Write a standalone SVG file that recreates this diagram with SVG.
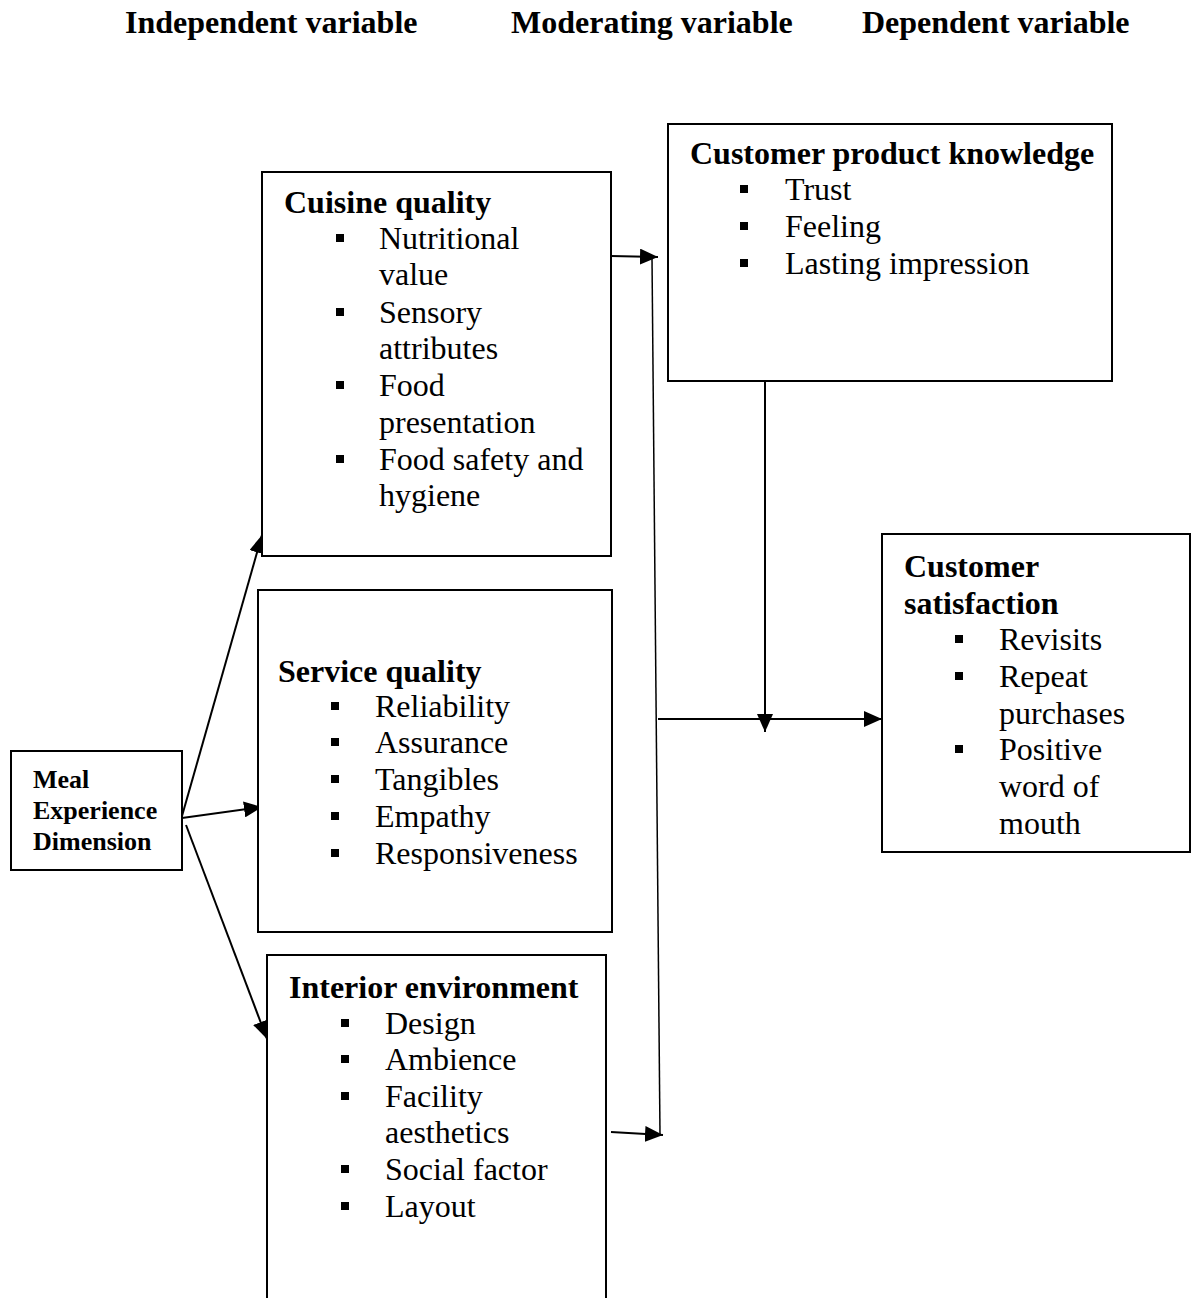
<svg xmlns="http://www.w3.org/2000/svg" width="1192" height="1298" viewBox="0 0 1192 1298">
<style>
.box{fill:#fff;stroke:#000;stroke-width:2}
.h{font-family:"Liberation Serif","Times New Roman",serif;font-weight:bold;font-size:32px;fill:#000}
.t{font-family:"Liberation Serif","Times New Roman",serif;font-size:32px;fill:#000}
.m{font-family:"Liberation Serif","Times New Roman",serif;font-weight:bold;font-size:26px;fill:#000}
.c{stroke:#000;stroke-width:2;fill:none}
.thin{stroke:#000;stroke-width:1.5;fill:none}
.b{fill:#000}
</style>
<defs>
<marker id="ah" markerUnits="userSpaceOnUse" markerWidth="20" markerHeight="16" refX="18" refY="8" orient="auto">
<path d="M0,0 L18,8 L0,16 Z" fill="#000"/>
</marker>
</defs>
<rect width="1192" height="1298" fill="#fff"/>
<g id="headers">
<text class="h" x="125" y="33">Independent variable</text>
<text class="h" x="511" y="33">Moderating variable</text>
<text class="h" x="862" y="33">Dependent variable</text>
</g>
<g id="connectors">
<line class="c" x1="182" y1="816" x2="262" y2="535" marker-end="url(#ah)"/>
<line class="c" x1="182" y1="818" x2="262" y2="807" marker-end="url(#ah)"/>
<line class="c" x1="186" y1="825" x2="267" y2="1039" marker-end="url(#ah)"/>
<line class="c" x1="611" y1="256" x2="658" y2="257" marker-end="url(#ah)"/>
<line class="c" x1="611" y1="1132" x2="663" y2="1135" marker-end="url(#ah)"/>
<line class="thin" x1="652" y1="258" x2="660" y2="1135"/>
<line class="c" x1="658" y1="719" x2="882" y2="719" marker-end="url(#ah)"/>
<line class="c" x1="765" y1="382" x2="765" y2="732" marker-end="url(#ah)"/>
</g>
<g id="meal">
<rect class="box" x="11" y="751" width="171" height="119"/>
<text class="m" x="33" y="788">Meal</text>
<text class="m" x="33" y="819">Experience</text>
<text class="m" x="33" y="850">Dimension</text>
</g>
<g id="cuisine">
<rect class="box" x="262" y="172" width="349" height="384"/>
<text class="h" x="284" y="213">Cuisine quality</text>
<rect class="b" x="336" y="234" width="8" height="8"/>
<text class="t" x="379" y="249">Nutritional</text>
<text class="t" x="379" y="285">value</text>
<rect class="b" x="336" y="308" width="8" height="8"/>
<text class="t" x="379" y="323">Sensory</text>
<text class="t" x="379" y="359">attributes</text>
<rect class="b" x="336" y="381" width="8" height="8"/>
<text class="t" x="379" y="396">Food</text>
<text class="t" x="379" y="433">presentation</text>
<rect class="b" x="336" y="455" width="8" height="8"/>
<text class="t" x="379" y="470">Food safety and</text>
<text class="t" x="379" y="506">hygiene</text>
</g>
<g id="service">
<rect class="box" x="258" y="590" width="354" height="342"/>
<text class="h" x="278" y="682">Service quality</text>
<rect class="b" x="331" y="702" width="8" height="8"/>
<text class="t" x="375" y="717">Reliability</text>
<rect class="b" x="331" y="738" width="8" height="8"/>
<text class="t" x="375" y="753">Assurance</text>
<rect class="b" x="331" y="775" width="8" height="8"/>
<text class="t" x="375" y="790">Tangibles</text>
<rect class="b" x="331" y="812" width="8" height="8"/>
<text class="t" x="375" y="827">Empathy</text>
<rect class="b" x="331" y="849" width="8" height="8"/>
<text class="t" x="375" y="864">Responsiveness</text>
</g>
<g id="interior">
<path class="box" d="M267,1300 V955 H606 V1300"/>
<text class="h" x="289" y="998">Interior environment</text>
<rect class="b" x="341" y="1019" width="8" height="8"/>
<text class="t" x="385" y="1034">Design</text>
<rect class="b" x="341" y="1055" width="8" height="8"/>
<text class="t" x="385" y="1070">Ambience</text>
<rect class="b" x="341" y="1092" width="8" height="8"/>
<text class="t" x="385" y="1107">Facility</text>
<text class="t" x="385" y="1143">aesthetics</text>
<rect class="b" x="341" y="1165" width="8" height="8"/>
<text class="t" x="385" y="1180">Social factor</text>
<rect class="b" x="341" y="1202" width="8" height="8"/>
<text class="t" x="385" y="1217">Layout</text>
</g>
<g id="knowledge">
<rect class="box" x="668" y="124" width="444" height="257"/>
<text class="h" x="690" y="164">Customer product knowledge</text>
<rect class="b" x="740" y="185" width="8" height="8"/>
<text class="t" x="785" y="200">Trust</text>
<rect class="b" x="740" y="222" width="8" height="8"/>
<text class="t" x="785" y="237">Feeling</text>
<rect class="b" x="740" y="259" width="8" height="8"/>
<text class="t" x="785" y="274">Lasting impression</text>
</g>
<g id="satisfaction">
<rect class="box" x="882" y="534" width="308" height="318"/>
<text class="h" x="904" y="577">Customer</text>
<text class="h" x="904" y="614">satisfaction</text>
<rect class="b" x="955" y="635" width="8" height="8"/>
<text class="t" x="999" y="650">Revisits</text>
<rect class="b" x="955" y="672" width="8" height="8"/>
<text class="t" x="999" y="687">Repeat</text>
<text class="t" x="999" y="724">purchases</text>
<rect class="b" x="955" y="745" width="8" height="8"/>
<text class="t" x="999" y="760">Positive</text>
<text class="t" x="999" y="797">word of</text>
<text class="t" x="999" y="834">mouth</text>
</g>
</svg>
